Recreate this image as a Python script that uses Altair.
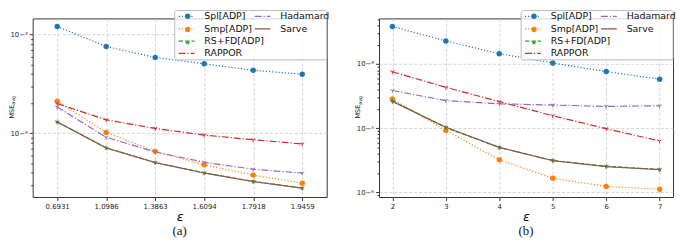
import altair as alt
import pandas as pd

series = ["Spl[ADP]", "Smp[ADP]", "RS+FD[ADP]", "RAPPOR", "Hadamard", "Sarve"]
colors = ["#1f77b4", "#ff7f0e", "#2ca02c", "#d62728", "#9467bd", "#8c564b"]
dashes = [[1.2, 2], [1.2, 2], [4.5, 2], [7, 2, 1.2, 2], [7, 2, 1.2, 2], [1, 0]]

# panel (a)
eps_a = ["0.6931", "1.0986", "1.3863", "1.6094", "1.7918", "1.9459"]
a_spl = [1.21e-3, 7.58e-4, 5.88e-4, 5.06e-4, 4.35e-4, 3.97e-4]
a_smp = [2.12e-4, 1.02e-4, 6.56e-5, 4.79e-5, 3.77e-5, 3.12e-5]
a_rsfd = [1.31e-4, 7.13e-5, 5.06e-5, 3.97e-5, 3.25e-5, 2.79e-5]
a_rappor = [2.0e-4, 1.37e-4, 1.12e-4, 9.6e-5, 8.6e-5, 7.8e-5]
a_hadamard = [1.85e-4, 9.1e-5, 6.47e-5, 5.09e-5, 4.32e-5, 3.95e-5]
a_sarve = [1.30e-4, 7.10e-5, 5.05e-5, 3.96e-5, 3.24e-5, 2.78e-5]

# panel (b)
eps_b = [2, 3, 4, 5, 6, 7]
b_spl = [3.86e-4, 2.29e-4, 1.45e-4, 1.04e-4, 7.64e-5, 5.78e-5]
b_smp = [2.85e-5, 9.2e-6, 3.2e-6, 1.65e-6, 1.23e-6, 1.11e-6]
b_rsfd = [2.66e-5, 1.02e-5, 4.98e-6, 3.13e-6, 2.54e-6, 2.26e-6]
b_rappor = [7.57e-5, 4.33e-5, 2.59e-5, 1.56e-5, 9.8e-6, 6.3e-6]
b_hadamard = [3.86e-5, 2.69e-5, 2.39e-5, 2.29e-5, 2.18e-5, 2.23e-5]
b_sarve = [2.6e-5, 1.03e-5, 5.0e-6, 3.1e-6, 2.5e-6, 2.25e-6]

ydom_a = [2.26e-5, 1.46e-3]
ydom_b = [8.4e-7, 5.15e-4]

STAR = ("M0,-1L0.2245,-0.309L0.9511,-0.309L0.3633,0.118L0.5878,0.809L0,0.382"
        "L-0.5878,0.809L-0.3633,0.118L-0.9511,-0.309L-0.2245,-0.309Z")
TRI = "M0,0L0,1M0,0L-0.866,-0.5M0,0L0.866,-0.5"
LEGLINE = "M-2,0H2"

W, H = 298, 181


def long_df(eps, vals_list):
    rows = []
    for s, vals in zip(series, vals_list):
        for e, v in zip(eps, vals):
            rows.append({"eps": e, "mse": v, "series": s})
    return pd.DataFrame(rows)


def decade_ticks(lo_exp, hi_exp):
    vals = []
    for e in range(lo_exp, hi_exp + 1):
        for m in range(1, 10):
            vals.append(m * 10.0 ** e)
    return vals


MAJOR = "abs(log(datum.value)/LN10 - round(log(datum.value)/LN10)) < 0.01"
LABEL = ("abs(log(datum.value)/LN10 - round(log(datum.value)/LN10)) < 0.01 ? "
         "'10' + replace(replace(replace(replace(replace(format(round(log(datum.value)/LN10),'d'),"
         "'-','\u207b'),'3','\u00b3'),'4','\u2074'),'5','\u2075'),'6','\u2076') : ''")


def panel(df, xenc, ydom, yticks, caption):
    gA, gB = series[:4], series[4:]
    yenc = alt.Y(
        "mse:Q",
        scale=alt.Scale(type="log", domain=ydom, nice=False),
        axis=alt.Axis(
            values=yticks, labelExpr=LABEL, title=None,
            tickSize={"condition": {"test": MAJOR, "value": 3.5}, "value": 2},
            gridOpacity={"condition": {"test": MAJOR, "value": 1}, "value": 0},
        ),
    )
    base = alt.Chart(df)

    def leg(lx, **kw):
        opts = dict(
            title=None, orient="none", legendX=lx, legendY=-7, direction="vertical",
            symbolType=LEGLINE, symbolSize=64, symbolStrokeWidth=1.3,
            labelFont="DejaVu Sans", labelFontSize=9.5, labelColor="#111",
            labelOffset=13, rowPadding=2.5, padding=0, labelLimit=200,
        )
        opts.update(kw)
        return alt.Legend(**opts)

    lxA, lxB = W - 147, W - 70
    lineA = base.transform_filter(
        alt.FieldOneOfPredicate(field="series", oneOf=gA)
    ).mark_line(strokeWidth=1.2).encode(
        x=xenc, y=yenc,
        color=alt.Color("series:N", scale=alt.Scale(domain=gA, range=colors[:4]), legend=leg(lxA)),
        strokeDash=alt.StrokeDash("series:N", scale=alt.Scale(domain=gA, range=dashes[:4]), legend=leg(lxA)),
    )
    lineB = base.transform_filter(
        alt.FieldOneOfPredicate(field="series", oneOf=gB)
    ).mark_line(strokeWidth=1.2).encode(
        x=xenc, y=alt.Y("mse:Q"),
        color=alt.Color("series:N", scale=alt.Scale(domain=gB, range=colors[4:]), legend=leg(lxB)),
        strokeDash=alt.StrokeDash("series:N", scale=alt.Scale(domain=gB, range=dashes[4:]), legend=leg(lxB)),
    )
    mleg = leg(lxA + 1.3, symbolType="circle", symbolSize=30, labelExpr="''", symbolStrokeWidth=0)
    ptsF = base.transform_filter(
        alt.FieldOneOfPredicate(field="series", oneOf=series[:3])
    ).mark_point(filled=True, opacity=1, size=30).encode(
        x=xenc, y=alt.Y("mse:Q"),
        color=alt.Color("series:N", scale=alt.Scale(domain=series[:3], range=colors[:3]), legend=mleg),
        shape=alt.Shape("series:N", scale=alt.Scale(domain=series[:3], range=["circle", "circle", STAR]), legend=mleg),
    )
    ptsT = base.transform_filter(
        alt.FieldOneOfPredicate(field="series", oneOf=series[3:])
    ).mark_point(filled=False, opacity=1, size=22, strokeWidth=1).encode(
        x=xenc, y=alt.Y("mse:Q"),
        color=alt.Color("series:N", scale=alt.Scale(domain=series[3:], range=colors[3:]), legend=None),
        shape=alt.Shape("series:N", scale=alt.Scale(domain=series[3:], range=[TRI, TRI, TRI]), legend=None),
    )
    one = alt.Chart(pd.DataFrame({"k": [0]}))
    box = one.mark_rect(fill="white", fillOpacity=0.8, stroke="#bbbbbb", strokeWidth=1, cornerRadius=2).encode(
        x=alt.value(W - 154), x2=alt.value(W), y=alt.value(-8), y2=alt.value(42)
    )
    t_mse = one.mark_text(text="MSE", angle=270, align="right", baseline="alphabetic",
                          font="DejaVu Sans", fontSize=6.5, color="#111").encode(
        x=alt.value(-19), y=alt.value(H / 2 - 3)
    )
    t_avg = one.mark_text(text="avg", angle=270, align="left", baseline="alphabetic",
                          font="DejaVu Sans", fontSize=4.8, color="#111").encode(
        x=alt.value(-17.5), y=alt.value(H / 2 - 3)
    )
    return alt.layer(lineA, lineB, ptsF, ptsT, box, t_mse, t_avg).resolve_scale(
        color="independent", strokeDash="independent", shape="independent"
    ).properties(
        width=W, height=H,
        title=alt.TitleParams(text=caption, orient="bottom", font="Liberation Serif",
                              fontSize=13, fontWeight="normal", color="#111", offset=2),
    )


xaxis_common = dict(title="\u03b5", labelAngle=0, grid=True, tickSize=3.5,
                    titleFont="DejaVu Sans", titleFontStyle="italic", titleFontSize=13,
                    titleFontWeight="normal", titlePadding=1, labelPadding=2)

xa = alt.X("eps:O", sort=eps_a, scale=alt.Scale(type="point", paddingOuter=0.25),
           axis=alt.Axis(**xaxis_common))
xb = alt.X("eps:Q", scale=alt.Scale(domain=[1.75, 7.25], nice=False, zero=False),
           axis=alt.Axis(values=eps_b, format="d", **xaxis_common))

df_a = long_df(eps_a, [a_spl, a_smp, a_rsfd, a_rappor, a_hadamard, a_sarve])
df_b = long_df(eps_b, [b_spl, b_smp, b_rsfd, b_rappor, b_hadamard, b_sarve])

pa = panel(df_a, xa, ydom_a, decade_ticks(-5, -3), "(a)")
pb = panel(df_b, xb, ydom_b, decade_ticks(-7, -4), "(b)")

chart = alt.hconcat(pa, pb, spacing=24).properties(padding=0).configure_view(
    stroke="#333333", strokeWidth=1
).configure_axis(
    labelFont="DejaVu Sans", labelFontSize=7, labelColor="#222222",
    tickColor="#333333", domain=False, gridColor="#c8c8c8", gridDash=[3, 2], gridWidth=0.8,
    titleColor="#111111",
)

chart.save("out.html", embed_options={"renderer": "svg", "actions": False})
